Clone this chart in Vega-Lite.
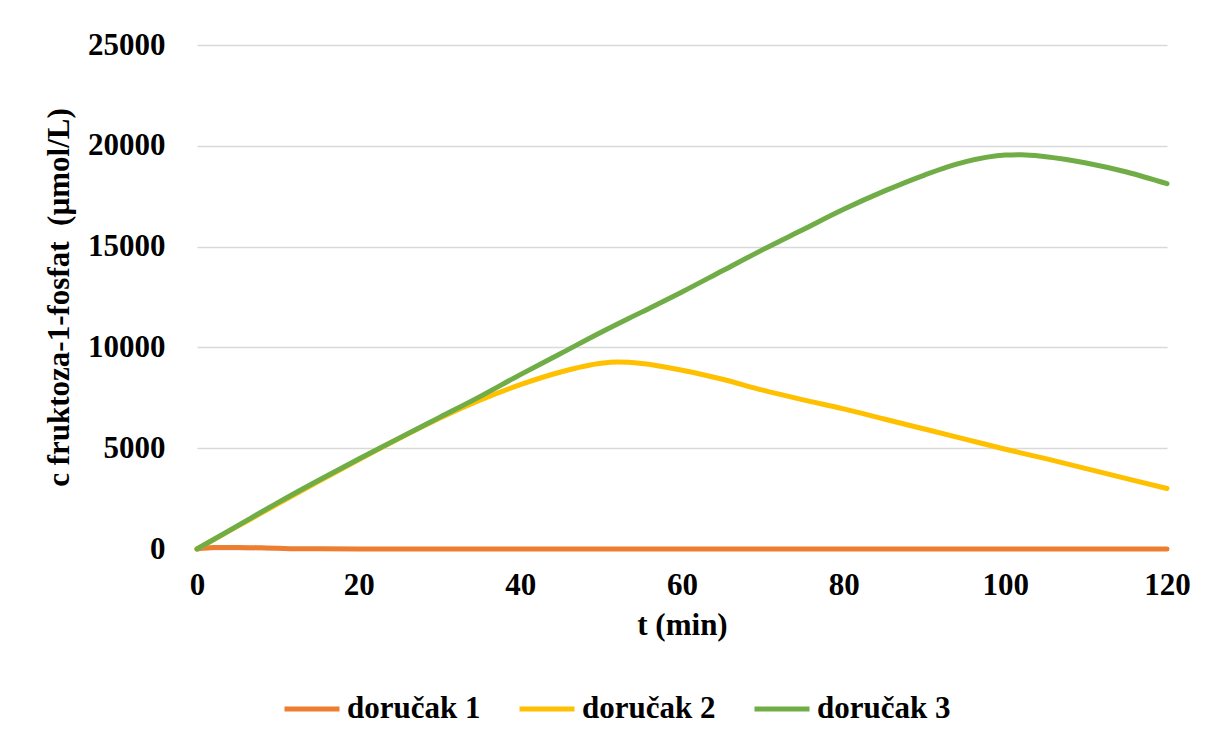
{
  "$schema": "https://vega.github.io/schema/vega-lite/v6.json",
  "width": 970,
  "height": 504,
  "autosize": {"type": "none"},
  "padding": {"left": 197, "top": 45, "right": 39, "bottom": 193},
  "background": "white",
  "config": {
    "view": {"stroke": null},
    "font": "Liberation Serif",
    "axis": {"labelFont": "Liberation Serif", "titleFont": "Liberation Serif", "labelFontWeight": "bold", "titleFontWeight": "bold", "labelColor": "black", "titleColor": "black"},
    "legend": {"labelFont": "Liberation Serif", "labelFontWeight": "bold", "labelColor": "black"}
  },
  "data": {
    "values": [
      {"t": 0, "c": 0, "s": "doručak 1"},
      {"t": 2, "c": 70, "s": "doručak 1"},
      {"t": 5, "c": 80, "s": "doručak 1"},
      {"t": 8, "c": 60, "s": "doručak 1"},
      {"t": 10, "c": 40, "s": "doručak 1"},
      {"t": 12, "c": 15, "s": "doručak 1"},
      {"t": 15, "c": 8, "s": "doručak 1"},
      {"t": 20, "c": 5, "s": "doručak 1"},
      {"t": 40, "c": 3, "s": "doručak 1"},
      {"t": 60, "c": 2, "s": "doručak 1"},
      {"t": 80, "c": 2, "s": "doručak 1"},
      {"t": 100, "c": 2, "s": "doručak 1"},
      {"t": 120, "c": 1, "s": "doručak 1"},
      {"t": 0, "c": 0, "s": "doručak 2"},
      {"t": 5, "c": 1120, "s": "doručak 2"},
      {"t": 10, "c": 2240, "s": "doručak 2"},
      {"t": 15, "c": 3350, "s": "doručak 2"},
      {"t": 20, "c": 4430, "s": "doručak 2"},
      {"t": 25, "c": 5480, "s": "doručak 2"},
      {"t": 30, "c": 6480, "s": "doručak 2"},
      {"t": 35, "c": 7380, "s": "doručak 2"},
      {"t": 40, "c": 8150, "s": "doručak 2"},
      {"t": 45, "c": 8780, "s": "doručak 2"},
      {"t": 50, "c": 9210, "s": "doručak 2"},
      {"t": 52, "c": 9270, "s": "doručak 2"},
      {"t": 55, "c": 9200, "s": "doručak 2"},
      {"t": 60, "c": 8870, "s": "doručak 2"},
      {"t": 65, "c": 8420, "s": "doručak 2"},
      {"t": 70, "c": 7880, "s": "doručak 2"},
      {"t": 75, "c": 7400, "s": "doručak 2"},
      {"t": 80, "c": 6950, "s": "doručak 2"},
      {"t": 85, "c": 6450, "s": "doručak 2"},
      {"t": 90, "c": 5950, "s": "doručak 2"},
      {"t": 95, "c": 5450, "s": "doručak 2"},
      {"t": 100, "c": 4950, "s": "doručak 2"},
      {"t": 105, "c": 4480, "s": "doručak 2"},
      {"t": 110, "c": 3990, "s": "doručak 2"},
      {"t": 115, "c": 3490, "s": "doručak 2"},
      {"t": 120, "c": 3000, "s": "doručak 2"},
      {"t": 0, "c": 0, "s": "doručak 3"},
      {"t": 5, "c": 1150, "s": "doručak 3"},
      {"t": 10, "c": 2300, "s": "doručak 3"},
      {"t": 15, "c": 3400, "s": "doručak 3"},
      {"t": 20, "c": 4460, "s": "doručak 3"},
      {"t": 25, "c": 5500, "s": "doručak 3"},
      {"t": 30, "c": 6530, "s": "doručak 3"},
      {"t": 35, "c": 7560, "s": "doručak 3"},
      {"t": 40, "c": 8650, "s": "doručak 3"},
      {"t": 45, "c": 9700, "s": "doručak 3"},
      {"t": 50, "c": 10750, "s": "doručak 3"},
      {"t": 55, "c": 11750, "s": "doručak 3"},
      {"t": 60, "c": 12750, "s": "doručak 3"},
      {"t": 65, "c": 13800, "s": "doručak 3"},
      {"t": 70, "c": 14850, "s": "doručak 3"},
      {"t": 75, "c": 15850, "s": "doručak 3"},
      {"t": 80, "c": 16850, "s": "doručak 3"},
      {"t": 85, "c": 17750, "s": "doručak 3"},
      {"t": 90, "c": 18550, "s": "doručak 3"},
      {"t": 95, "c": 19200, "s": "doručak 3"},
      {"t": 100, "c": 19540, "s": "doručak 3"},
      {"t": 102, "c": 19560, "s": "doručak 3"},
      {"t": 105, "c": 19460, "s": "doručak 3"},
      {"t": 110, "c": 19150, "s": "doručak 3"},
      {"t": 115, "c": 18700, "s": "doručak 3"},
      {"t": 120, "c": 18120, "s": "doručak 3"}
    ]
  },
  "mark": {"type": "line", "strokeWidth": 5, "strokeCap": "round", "interpolate": "monotone"},
  "encoding": {
    "x": {
      "field": "t", "type": "quantitative",
      "scale": {"domain": [0, 120], "nice": false},
      "axis": {"values": [0, 20, 40, 60, 80, 100, 120], "title": "t (min)", "grid": false, "ticks": false, "domain": true, "domainColor": "#d9d9d9", "domainWidth": 1.5, "labelFlush": false, "labelFontSize": 31, "labelPadding": 21, "titleFontSize": 31, "titlePadding": 10}
    },
    "y": {
      "field": "c", "type": "quantitative",
      "scale": {"domain": [0, 25000], "nice": false},
      "axis": {"values": [0, 5000, 10000, 15000, 20000, 25000], "title": "c fruktoza-1-fosfat\u00a0 (µmol/L)", "grid": true, "gridColor": "#d9d9d9", "gridWidth": 1.5, "ticks": false, "domain": false, "labelFontSize": 31, "labelPadding": 32, "titleFontSize": 31, "titlePadding": 12, "format": "d"}
    },
    "color": {
      "field": "s", "type": "nominal",
      "scale": {"domain": ["doručak 1", "doručak 2", "doručak 3"], "range": ["#ED7D31", "#FFC000", "#70AD47"]},
      "legend": {"title": null, "orient": "none", "direction": "horizontal", "legendX": 85, "legendY": 634, "symbolType": "stroke", "symbolSize": 3025, "symbolStrokeWidth": 5, "labelFontSize": 31, "labelOffset": 5, "columnPadding": 28, "labelLimit": 300}
    }
  }
}
